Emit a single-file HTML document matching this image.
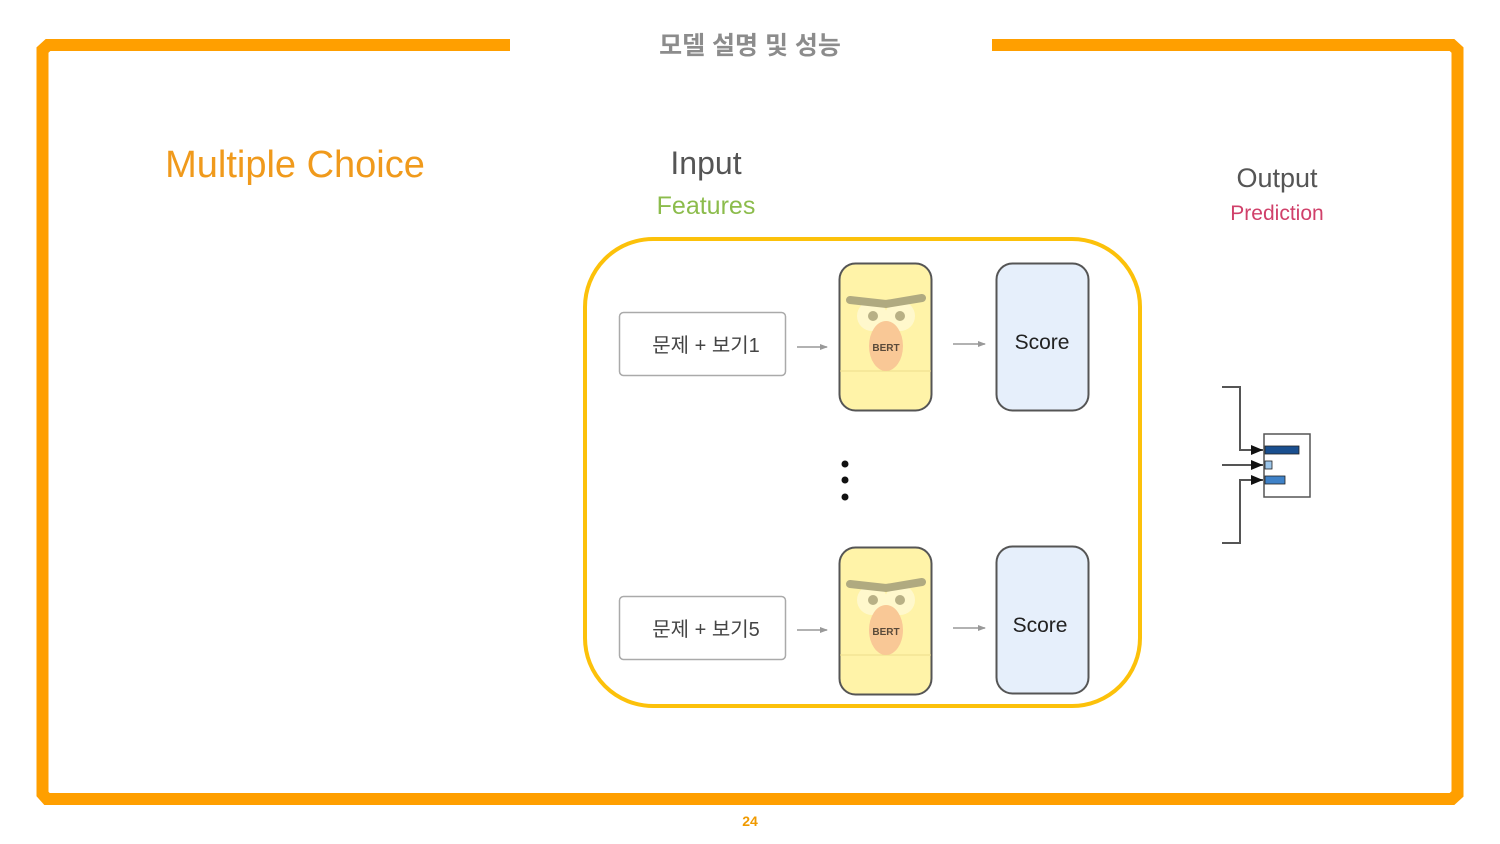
<!DOCTYPE html>
<html><head><meta charset="utf-8"><style>
html,body{margin:0;padding:0;background:#fff;}
svg{display:block;}
text{font-family:"Liberation Sans","Noto Sans CJK KR",sans-serif;}
</style></head><body>
<svg width="1500" height="844" viewBox="0 0 1500 844" xmlns="http://www.w3.org/2000/svg">
<defs>
<marker id="ah" markerWidth="8" markerHeight="8" refX="7" refY="4" orient="auto" markerUnits="userSpaceOnUse"><path d="M0,1 L8,4 L0,7 z" fill="#999"/></marker>
<marker id="bh" markerWidth="12" markerHeight="10" refX="12" refY="5" orient="auto" markerUnits="userSpaceOnUse"><path d="M0,0 L12,5 L0,10 z" fill="#111"/></marker>
</defs>
<path d="M510,45 L48,45 L42.5,50 L42.5,794 L47,799 L1452,799 L1457.5,794 L1457.5,50 L1452,45 L992,45" fill="none" stroke="#ff9f00" stroke-width="12"/>
<text x="750" y="54" text-anchor="middle" font-size="25" font-weight="bold" fill="#8c8c8c">모델 설명 및 성능</text>
<text x="750" y="826" text-anchor="middle" font-size="14" font-weight="bold" fill="#f09a00">24</text>
<text x="295" y="177" text-anchor="middle" font-size="38" fill="#f09a1c">Multiple Choice</text>
<text x="706" y="174" text-anchor="middle" font-size="32" fill="#555">Input</text>
<text x="706" y="214" text-anchor="middle" font-size="25" fill="#8cbc4c">Features</text>
<text x="1277" y="187" text-anchor="middle" font-size="27" fill="#555">Output</text>
<text x="1277" y="220" text-anchor="middle" font-size="21" fill="#d0406a">Prediction</text>
<rect x="585" y="239" width="555" height="467" rx="68" fill="none" stroke="#fcc10a" stroke-width="4"/>
<g>
<rect x="619.5" y="312.5" width="166" height="63" rx="4" fill="#fff" stroke="#aaa" stroke-width="1.5"/>
<text x="706" y="352" text-anchor="middle" font-size="20" fill="#444">문제 + 보기1</text>
<line x1="797" y1="347" x2="827" y2="347" stroke="#999" stroke-width="1.5" marker-end="url(#ah)"/>
<rect x="839.5" y="263.5" width="92" height="147" rx="16" fill="#fff3a8" stroke="#555" stroke-width="2"/>
<line x1="840" y1="371" x2="931" y2="371" stroke="#eedc8c" stroke-width="1"/>
<circle cx="872" cy="316" r="15" fill="#fff8cc"/><circle cx="900" cy="316" r="15" fill="#fff8cc"/>
<path d="M850,300 L886,304 L922,298" fill="none" stroke="#b0aa80" stroke-width="8" stroke-linecap="round"/>
<circle cx="873" cy="316" r="5" fill="#b8b085"/><circle cx="900" cy="316" r="5" fill="#b8b085"/>
<ellipse cx="886" cy="346" rx="17" ry="25" fill="#f9c896"/>
<text x="886" y="351" text-anchor="middle" font-size="10" font-weight="bold" fill="#5a4a3a">BERT</text>
<line x1="953" y1="344" x2="985" y2="344" stroke="#999" stroke-width="1.5" marker-end="url(#ah)"/>
<rect x="996.5" y="263.5" width="92" height="147" rx="16" fill="#e6effb" stroke="#555" stroke-width="2"/>
<text x="1042" y="349" text-anchor="middle" font-size="21" fill="#222">Score</text>
</g>
<g transform="translate(0,284)">
<rect x="619.5" y="312.5" width="166" height="63" rx="4" fill="#fff" stroke="#aaa" stroke-width="1.5"/>
<text x="706" y="352" text-anchor="middle" font-size="20" fill="#444">문제 + 보기5</text>
<line x1="797" y1="346" x2="827" y2="346" stroke="#999" stroke-width="1.5" marker-end="url(#ah)"/>
<rect x="839.5" y="263.5" width="92" height="147" rx="16" fill="#fff3a8" stroke="#555" stroke-width="2"/>
<line x1="840" y1="371" x2="931" y2="371" stroke="#eedc8c" stroke-width="1"/>
<circle cx="872" cy="316" r="15" fill="#fff8cc"/><circle cx="900" cy="316" r="15" fill="#fff8cc"/>
<path d="M850,300 L886,304 L922,298" fill="none" stroke="#b0aa80" stroke-width="8" stroke-linecap="round"/>
<circle cx="873" cy="316" r="5" fill="#b8b085"/><circle cx="900" cy="316" r="5" fill="#b8b085"/>
<ellipse cx="886" cy="346" rx="17" ry="25" fill="#f9c896"/>
<text x="886" y="351" text-anchor="middle" font-size="10" font-weight="bold" fill="#5a4a3a">BERT</text>
<line x1="953" y1="344" x2="985" y2="344" stroke="#999" stroke-width="1.5" marker-end="url(#ah)"/>
<rect x="996.5" y="262.5" width="92" height="147" rx="16" fill="#e6effb" stroke="#555" stroke-width="2"/>
<text x="1040" y="348" text-anchor="middle" font-size="21" fill="#222">Score</text>
</g>
<circle cx="845" cy="464" r="3.5" fill="#111"/><circle cx="845" cy="480" r="3.5" fill="#111"/><circle cx="845" cy="497" r="3.5" fill="#111"/>
<rect x="1264" y="434" width="46" height="63" fill="#fff" stroke="#555" stroke-width="1.5"/>
<rect x="1265" y="446" width="34" height="8" fill="#1a4f8f" stroke="#222" stroke-width="0.8"/>
<rect x="1265" y="461" width="7" height="8" fill="#9cc6ea" stroke="#222" stroke-width="0.8"/>
<rect x="1265" y="476" width="20" height="8" fill="#3f82c8" stroke="#222" stroke-width="0.8"/>
<path d="M1222,387 L1240,387 L1240,450 L1263,450" fill="none" stroke="#555" stroke-width="2" marker-end="url(#bh)"/>
<path d="M1222,465 L1263,465" fill="none" stroke="#555" stroke-width="2" marker-end="url(#bh)"/>
<path d="M1222,543 L1240,543 L1240,480 L1263,480" fill="none" stroke="#555" stroke-width="2" marker-end="url(#bh)"/>
</svg>
</body></html>
